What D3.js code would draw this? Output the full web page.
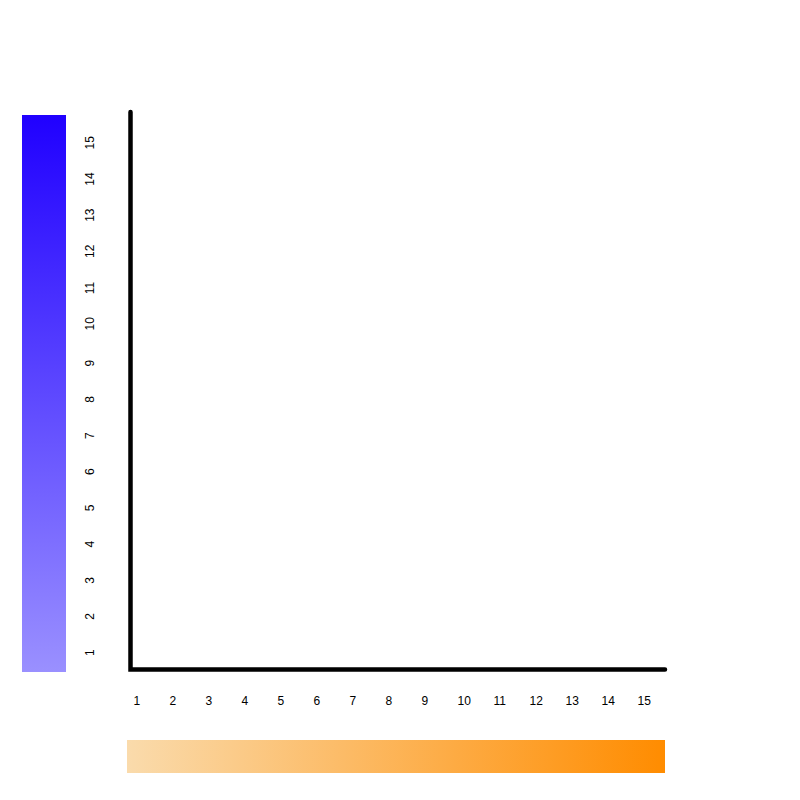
<!DOCTYPE html>
<html>
<head>
<meta charset="utf-8">
<script src="https://cdn.jsdelivr.net/npm/d3@7"></script>
<style>
  body { margin: 0; background: #fff; }
  text { font-family: "Liberation Sans", Arial, sans-serif; font-size: 12px; fill: #000; }
</style>
</head>
<body>
<svg id="chart"></svg>
<script>
// tick labels on both axes
const xTicks = [1, 2, 3, 4, 5, 6, 7, 8, 9, 10, 11, 12, 13, 14, 15];
const yTicks = [1, 2, 3, 4, 5, 6, 7, 8, 9, 10, 11, 12, 13, 14, 15];
// gradient end colours of the two legend bars
const yColors = ["#9a90ff", "#2000ff"];
const xColors = ["#fadbac", "#ff8c00"];

const width = 800, height = 800;

const svg = d3.select("#chart")
  .attr("width", width)
  .attr("height", height);

// scales for label placement (labels are start-aligned)
const x = d3.scaleLinear().domain([1, 15]).range([133.5, 637.5]);
const y = d3.scaleLinear().domain([1, 15]).range([656, 149.5]);

const defs = svg.append("defs");

// vertical gradient (bottom light -> top deep blue)
const gy = defs.append("linearGradient")
  .attr("id", "gradY")
  .attr("x1", 0).attr("y1", 1).attr("x2", 0).attr("y2", 0);
gy.selectAll("stop").data(yColors).enter().append("stop")
  .attr("offset", (d, i) => i)
  .attr("stop-color", d => d);

// horizontal gradient (left pale -> right orange)
const gx = defs.append("linearGradient")
  .attr("id", "gradX")
  .attr("x1", 0).attr("y1", 0).attr("x2", 1).attr("y2", 0);
gx.selectAll("stop").data(xColors).enter().append("stop")
  .attr("offset", (d, i) => i)
  .attr("stop-color", d => d);

// left colour bar
svg.append("rect")
  .attr("x", 22).attr("y", 115)
  .attr("width", 44).attr("height", 557)
  .attr("fill", "url(#gradY)");

// bottom colour bar
svg.append("rect")
  .attr("x", 127).attr("y", 740)
  .attr("width", 538).attr("height", 33)
  .attr("fill", "url(#gradX)");

// axis lines
svg.append("path")
  .attr("d", "M130.5,112 L130.5,669.5 L665,669.5")
  .attr("fill", "none")
  .attr("stroke", "#000")
  .attr("stroke-width", 4.5)
  .attr("stroke-linecap", "round")
  .attr("stroke-linejoin", "miter");

// x labels
svg.append("g").selectAll("text")
  .data(xTicks).enter().append("text")
  .attr("x", d => x(d))
  .attr("y", 705)
  .attr("text-anchor", "start")
  .text(d => d);

// y labels, rotated
svg.append("g").selectAll("text")
  .data(yTicks).enter().append("text")
  .attr("transform", d => `translate(94,${y(d)}) rotate(-90)`)
  .attr("text-anchor", "start")
  .text(d => d);
</script>
</body>
</html>
